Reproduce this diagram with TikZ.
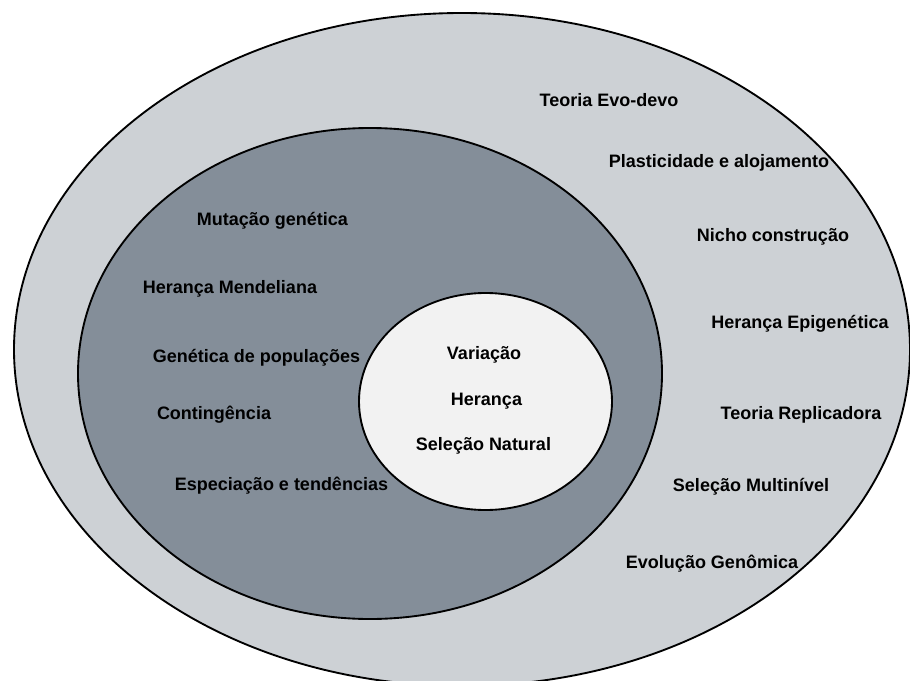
\documentclass[tikz,border=0pt]{standalone}
\usepackage{fontspec}
\setmainfont{Liberation Sans}
\usetikzlibrary{shapes.geometric}
\definecolor{outergrey}{HTML}{CDD1D5}
\definecolor{midgrey}{HTML}{848E99}
\definecolor{innergrey}{HTML}{F2F2F2}
\tikzset{
  ring/.style = {draw=black, line width=1.4pt, ellipse, inner sep=0pt},
  lbl/.style  = {font=\fontsize{13.5}{16}\selectfont\bfseries, inner sep=0pt, anchor=base},
}
\begin{document}
\begin{tikzpicture}[x=0.75pt, y=-0.75pt]
  \useasboundingbox (0,0) rectangle (910,681);
  % three nested rings
  \node[ring, fill=outergrey, minimum width=672pt, minimum height=504.75pt] (outer) at (462,349.5) {};
  \node[ring, fill=midgrey, minimum width=438pt, minimum height=368.25pt] (middle) at (370,373.5) {};
  \node[ring, fill=innergrey, minimum width=189.75pt, minimum height=162.75pt] (inner) at (485.5,401.5) {};
  % outer ring
  \node[lbl] (evodevo) at (609,107) {Teoria Evo-devo};
  \node[lbl] (plastic) at (719,168) {Plasticidade e alojamento};
  \node[lbl] (nicho) at (773,241) {Nicho construção};
  \node[lbl] (epigen) at (800,328) {Herança Epigenética};
  \node[lbl] (replic) at (801,419) {Teoria Replicadora};
  \node[lbl] (multinivel) at (751,491) {Seleção Multinível};
  \node[lbl] (genomica) at (712,568) {Evolução Genômica};
  % middle ring
  \node[lbl] (mutacao) at (272.5,225) {Mutação genética};
  \node[lbl] (mendel) at (230,293) {Herança Mendeliana};
  \node[lbl] (popgen) at (256.5,362) {Genética de populações};
  \node[lbl] (conting) at (214,419) {Contingência};
  \node[lbl] (especia) at (281.5,490) {Especiação e tendências};
  % core
  \node[lbl] (variacao) at (484,359) {Variação};
  \node[lbl] (heranca) at (486.5,405) {Herança};
  \node[lbl] (selecao) at (483.5,450) {Seleção Natural};
\end{tikzpicture}
\end{document}
